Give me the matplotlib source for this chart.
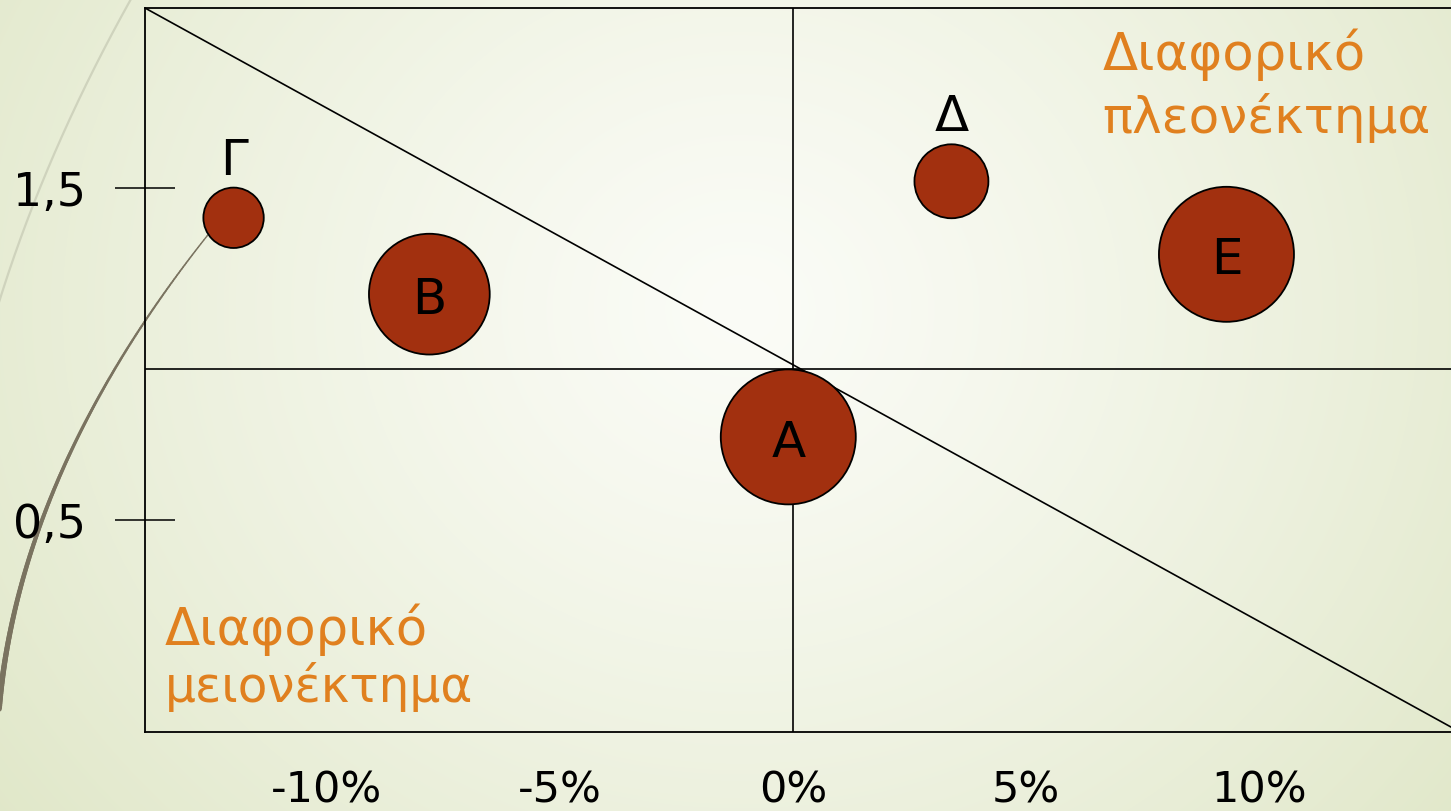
import matplotlib
matplotlib.use("Agg")
import matplotlib.pyplot as plt
import numpy as np
from matplotlib.collections import LineCollection

# Δεδομένα του διαγράμματος
products = ["Α", "Β", "Γ", "Δ", "Ε"]
growth = [-0.1, -7.8, -12.0, 3.4, 9.3]        # άξονας x, %
rel_share = [0.75, 1.18, 1.41, 1.52, 1.30]    # άξονας y
sales = [1.0, 0.8, 0.2, 0.3, 1.0]             # μέγεθος φυσαλίδας (σχετικό)

x_ticks = [-10, -5, 0, 5, 10]
x_tick_labels = ["-10%", "-5%", "0%", "5%", "10%"]
y_ticks = [0.5, 1.5]
y_tick_labels = ["0,5", "1,5"]

x_split = 0.0
y_split = 0.955

W, H = 1451, 812
ORANGE = "#e0801f"
BUBBLE = "#a2300f"

fig = plt.figure(figsize=(W / 100, H / 100), dpi=100)

# φόντο με ακτινική διαβάθμιση
bg = fig.add_axes([0, 0, 1, 1])
yy, xx = np.mgrid[0:H, 0:W]
d = np.hypot(xx - 740, (yy - 310) / 0.9)
t = (np.clip(d / 950, 0, 1) ** 1.2)[..., None]
centre = np.array([251, 252, 247]) / 255
edge = np.array([224, 231, 200]) / 255
bg.imshow(centre * (1 - t) + edge * t, extent=(0, W, H, 0), aspect="auto")
bg.set_xlim(0, W)
bg.set_ylim(H, 0)
bg.axis("off")

# διακοσμητικές καμπύλες της διαφάνειας
ly = np.linspace(0, 340, 200)
bg.plot(4.077e-4 * ly**2 - 0.559 * ly + 131, ly, color="#cfd3bd", lw=1.6)

dy = np.linspace(225, 812, 300)
dx = 7.455e-4 * dy**2 - 1.1458 * dy + 436.7
pts = np.column_stack([dx, dy]).reshape(-1, 1, 2)
segs = np.concatenate([pts[:-1], pts[1:]], axis=1)
widths = np.linspace(0.9, 4.8, len(segs))
bg.add_collection(LineCollection(segs, linewidths=widths, colors="#7a7360",
                                 capstyle="round"))

# κύριο διάγραμμα
ax = fig.add_axes([145 / W, (H - 733) / H, (1460 - 145) / W, (733 - 9) / H])
ax.patch.set_alpha(0)
ax.set_xlim(-13.9, 14.31)
ax.set_ylim(-0.139, 2.042)
for side in ["left", "bottom", "top"]:
    ax.spines[side].set_linewidth(1.3)
ax.spines["right"].set_visible(False)

ax.axvline(x_split, color="black", lw=1.2, zorder=2)
ax.axhline(y_split, color="black", lw=1.2, zorder=2)
ax.plot([0, 1], [1, 0], transform=ax.transAxes, color="black", lw=1.2,
        zorder=2)

s_max = 9450
sizes = [v * s_max for v in sales]
ax.scatter(growth, rel_share, s=sizes, c=BUBBLE, edgecolors="black",
           linewidths=1.3, zorder=3)

for name, x, y, s in zip(products, growth, rel_share, sizes):
    if s < 0.5 * s_max:
        off = np.sqrt(s) / 2 + 10
    else:
        off = -13.5
    ax.annotate(name, (x, y), xytext=(0, off), textcoords="offset points",
                ha="center", va="baseline", fontsize=36, color="black",
                zorder=4)

ax.set_xticks(x_ticks)
ax.set_xticklabels(x_tick_labels, fontsize=31)
ax.tick_params(axis="x", length=0, pad=26)
ax.set_yticks(y_ticks)
ax.set_yticklabels(y_tick_labels, fontsize=33)
ax.tick_params(axis="y", direction="inout", length=43, width=1.1, pad=21)

ax.text(0.728, 0.9157, "Διαφορικό", transform=ax.transAxes, fontsize=37,
        color=ORANGE, va="baseline")
ax.text(0.728, 0.8287, "πλεονέκτημα", transform=ax.transAxes, fontsize=36,
        color=ORANGE, va="baseline")
ax.text(0.0152, 0.1215, "Διαφορικό", transform=ax.transAxes, fontsize=37,
        color=ORANGE, va="baseline")
ax.text(0.0152, 0.0428, "μειονέκτημα", transform=ax.transAxes, fontsize=35,
        color=ORANGE, va="baseline")

fig.savefig("out.png", dpi=100)
